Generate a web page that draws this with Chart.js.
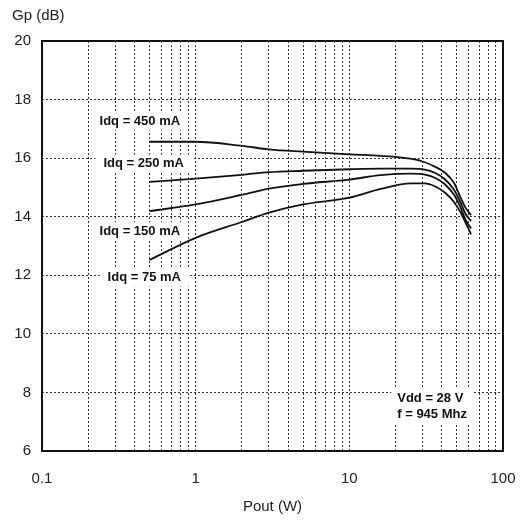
<!DOCTYPE html>
<html>
<head>
<meta charset="utf-8">
<script src="https://cdn.jsdelivr.net/npm/chart.js@4/dist/chart.umd.min.js"></script>
<style>
  html, body { margin: 0; padding: 0; background: #fff; }
  #wrap { width: 526px; height: 521px; }
</style>
</head>
<body>
<div id="wrap"><canvas id="c" width="526" height="521"></canvas></div>
<script>
// ---- data ----
const pout   = [0.5, 1, 2, 3, 5, 10, 16, 25, 31, 36, 42, 48, 53, 57, 62];
const gp450  = [16.56, 16.56, 16.42, 16.30, 16.22, 16.13, 16.08, 15.98, 15.86, 15.71, 15.50, 15.15, 14.65, 14.31, 14.05];
const gp250  = [15.19, 15.30, 15.43, 15.52, 15.57, 15.62, 15.64, 15.64, 15.61, 15.50, 15.27, 14.92, 14.48, 14.10, 13.85];
const gp150  = [14.19, 14.42, 14.75, 14.96, 15.12, 15.27, 15.42, 15.47, 15.44, 15.33, 15.10, 14.75, 14.31, 13.90, 13.60];
const gp75   = [12.52, 13.28, 13.82, 14.14, 14.42, 14.65, 14.95, 15.14, 15.14, 15.04, 14.82, 14.50, 14.14, 13.80, 13.40];
const seriesNames = ['Idq = 450 mA', 'Idq = 250 mA', 'Idq = 150 mA', 'Idq = 75 mA'];
const xTickValues = [0.1, 1, 10, 100];
const yTickValues = [6, 8, 10, 12, 14, 16, 18, 20];
const xTitle = 'Pout (W)';
const yTitle = 'Gp (dB)';
const noteLines = ['Vdd = 28 V', 'f = 945 Mhz'];

// label anchors (data coords)
const seriesLabelPos = [[0.433, 17.26], [0.459, 15.81], [0.433, 13.51], [0.463, 11.92]];
const notePos = [[20.5, 7.80], [20.5, 7.25]];

const FONT = '"Liberation Sans", Arial, Helvetica, sans-serif';

function pts(ys) { return pout.map((p, i) => ({ x: p, y: ys[i] })); }

const allSeries = [gp450, gp250, gp150, gp75];
const datasets = allSeries.map((ys, i) => ({
  label: seriesNames[i],
  data: pts(ys),
  borderColor: '#111',
  borderWidth: 1.8,
  pointRadius: 0,
  fill: false,
  cubicInterpolationMode: 'monotone'
}));

// minor log ticks for grid lines
const minorTicks = [];
for (let d = -1; d < 2; d++) {
  for (let m = 1; m < 10; m++) minorTicks.push(+(m * Math.pow(10, d)).toPrecision(3));
}
minorTicks.push(100);

const overlay = {
  id: 'overlay',
  beforeDatasetsDraw(chart) {
    const ctx = chart.ctx;
    const xs = chart.scales.x, ys = chart.scales.y;
    ctx.save();
    ctx.font = 'bold 13px ' + FONT;
    ctx.textBaseline = 'middle';
    ctx.textAlign = 'center';
    seriesNames.forEach((t, i) => {
      const px = xs.getPixelForValue(seriesLabelPos[i][0]);
      const py = ys.getPixelForValue(seriesLabelPos[i][1]);
      const w = ctx.measureText(t).width;
      ctx.fillStyle = '#fff';
      ctx.fillRect(px - w / 2 - 8, py - 9, w + 16, 18);
      ctx.fillStyle = '#111';
      ctx.fillText(t, px, py);
    });
    ctx.textAlign = 'left';
    let maxW = 0;
    noteLines.forEach(t => { maxW = Math.max(maxW, ctx.measureText(t).width); });
    const nx = xs.getPixelForValue(notePos[0][0]);
    const ny0 = ys.getPixelForValue(notePos[0][1]);
    const ny1 = ys.getPixelForValue(notePos[1][1]);
    ctx.fillStyle = '#fff';
    ctx.fillRect(nx - 6, ny0 - 10, maxW + 12, ny1 - ny0 + 20);
    ctx.fillStyle = '#111';
    noteLines.forEach((t, i) => {
      ctx.fillText(t, nx, ys.getPixelForValue(notePos[i][1]));
    });
    ctx.restore();
  },
  afterDraw(chart) {
    const ctx = chart.ctx;
    const a = chart.chartArea;
    ctx.save();
    ctx.strokeStyle = '#111';
    ctx.lineWidth = 2;
    ctx.strokeRect(a.left, a.top, a.right - a.left, a.bottom - a.top);
    ctx.fillStyle = '#222';
    ctx.font = '15px ' + FONT;
    ctx.textBaseline = 'middle';
    ctx.textAlign = 'left';
    ctx.fillText(yTitle, 12, 16);
    ctx.textAlign = 'center';
    ctx.fillText(xTitle, (a.left + a.right) / 2, 507);
    ctx.restore();
  }
};

new Chart(document.getElementById('c'), {
  type: 'line',
  data: { datasets },
  options: {
    responsive: false,
    animation: false,
    devicePixelRatio: 1,
    layout: { padding: { left: 0, top: 41, right: 23, bottom: 0 } },
    plugins: { legend: { display: false }, tooltip: { enabled: false } },
    scales: {
      x: {
        type: 'logarithmic',
        min: 0.1,
        max: 100,
        afterBuildTicks(scale) { scale.ticks = minorTicks.map(v => ({ value: v })); },
        afterFit(scale) { scale.height = 70; scale.paddingLeft = 0; scale.paddingRight = 0; },
        ticks: {
          autoSkip: false,
          maxRotation: 0,
          padding: 19,
          color: '#222',
          font: { family: FONT, size: 15 },
          callback(v) {
            const hit = xTickValues.find(t => Math.abs(t - v) < 1e-9);
            return hit !== undefined ? String(hit) : '';
          }
        },
        grid: { color: '#333', lineWidth: 1, drawTicks: false },
        border: { display: false, dash: [2, 2] }
      },
      y: {
        type: 'linear',
        min: 6,
        max: 20,
        afterBuildTicks(scale) { scale.ticks = yTickValues.map(v => ({ value: v })); },
        afterFit(scale) { scale.width = 42; scale.paddingTop = 0; scale.paddingBottom = 0; },
        ticks: {
          padding: 11,
          color: '#222',
          font: { family: FONT, size: 15 }
        },
        grid: { color: '#333', lineWidth: 1, drawTicks: false },
        border: { display: false, dash: [2, 2] }
      }
    }
  },
  plugins: [overlay]
});
</script>
</body>
</html>
